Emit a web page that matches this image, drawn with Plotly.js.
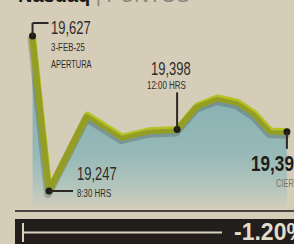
<!DOCTYPE html>
<html><head><meta charset="utf-8">
<script src="https://cdn.plot.ly/plotly-3.0.1.min.js"></script>
<style>
html,body{margin:0;padding:0;background:#d6cdb9;overflow:hidden}
#chart{width:294px;height:244px}
.js-line{stroke-linejoin:round;stroke-linecap:round}
</style></head><body>
<div id="chart"></div>
<script>
const hours  = [8.05, 8.5, 9.55, 10.5, 11.25, 12.0, 12.55, 13.1, 13.65, 14.1, 14.55, 15.0];
const values = [19627, 19247, 19433, 19379, 19395, 19398, 19456, 19475, 19465, 19438, 19394, 19392];
const markIdx = [0, 1, 5, 11];
const change = '-1.20%';
const titleMain = 'Nasdaq';
const titleUnit = 'PUNTOS';

const BG = '#d6cdb9';
const F = '"Liberation Sans",Arial,sans-serif';
const mx = markIdx.map(i => hours[i]);
const my = markIdx.map(i => values[i]);

const XR = [7.161, 15.194], YR = [19117, 19715.3];
const ppx = (YR[1]-YR[0])/244, ppxX = (XR[1]-XR[0])/294;

const traces = [
  {x: hours, y: values, type:'scatter', mode:'lines', fill:'tozeroy',
   line:{width:0, color:'rgba(0,0,0,0)'},
   fillgradient:{type:'vertical', start:19200, stop:19470,
     colorscale:[[0,BG],[0.22,'#b2c5bd'],[0.5,'#97b9b7'],[1,'#89b2b3']]},
   hoverinfo:'skip'},
  {x: hours, y: values, xaxis:'x2', yaxis:'y2', type:'scatter', mode:'lines',
   line:{width:8, color:'rgba(30,35,30,0.22)'}, hoverinfo:'skip'},
  {x: hours, y: values, type:'scatter', mode:'lines',
   line:{width:7, color:'#b6c126'}, hoverinfo:'skip'},
  {x: mx, y: my, type:'scatter', mode:'markers',
   marker:{size:7, color:'#1c1a18'}, hoverinfo:'skip'}
];

function seg(i, x0, y0, x1, y1){
  return {type:'line', xref:'x', yref:'y', xsizemode:'pixel', ysizemode:'pixel',
    xanchor:hours[i], yanchor:values[i], x0:x0, y0:y0, x1:x1, y1:y1,
    line:{color:'#2a2724', width:2}};
}

const shapes = [
  seg(0, 0, 0, 0, 13), seg(0, 0, 13, 16, 13),
  seg(1, 0, 0, 24, 0),
  seg(5, 0, 0, 0, 37),
  seg(11, 0, 0, 0, -17),
  {type:'line', xref:'paper', yref:'paper', x0:15/294, x1:1, y0:1-211/244, y1:1-211/244,
   line:{color:'#4a4540', width:2}},
  {type:'rect', xref:'paper', yref:'paper', x0:15/294, x1:1.01, y0:-0.01, y1:1-219/244,
   fillcolor:'#221e1b', line:{width:0}},
  {type:'line', xref:'paper', yref:'paper', x0:23/294, x1:222/294, y0:1-232.5/244, y1:1-232.5/244,
   line:{color:'#d9d1bf', width:2}},
  {type:'line', xref:'paper', yref:'paper', x0:23/294, x1:23/294, y0:1-223/244, y1:1-242/244,
   line:{color:'#d9d1bf', width:2}}
];

function ann(i, text, xs, ys, size, color, weight){
  return {x:hours[i], y:values[i], xref:'x', yref:'y', text:text, showarrow:false,
    xanchor:'left', yanchor:'middle', xshift:xs, yshift:ys, borderpad:0,
    font:{family:F, size:size, color:color, weight:weight||'normal'}};
}
const annSpecs = [
  [0, '19,627', 17, 8.5, 18, '#2f2b28', 'normal', 0.72],
  [0, '3-FEB-25', 17, -10.5, 11, '#2f2b28', 'normal', 0.72],
  [0, 'APERTURA', 17, -27.5, 11, '#2f2b28', 'normal', 0.68],
  [1, '19,247', 27, 17, 18, '#2f2b28', 'normal', 0.72],
  [1, '8:30 HRS', 27, -2, 11, '#2f2b28', 'normal', 0.72],
  [5, '19,398', -27, 60.5, 18, '#2f2b28', 'normal', 0.72],
  [5, '12:00 HRS', -31, 44, 11, '#2f2b28', 'normal', 0.72],
  [11, '19,392', -37, -32, 22, '#1f1c1a', 'bold', 0.78],
  [11, 'CIERRE', -12, -51, 11, '#77726a', 'normal', 0.68]
];
const squeeze = {};
const annotations = annSpecs.map(s => ann(s[0], s[1], s[2], s[3], s[4], s[5], s[6]));
annSpecs.forEach((s, k) => { squeeze[k] = s[7]; });
annotations.push(
  {xref:'paper', yref:'paper', x:17/294, y:1, yanchor:'bottom', xanchor:'left', yshift:-7, borderpad:0,
   showarrow:false, text:'<b>'+titleMain+'</b> <span style="color:#8a857d">| '+titleUnit+'</span>',
   font:{family:F, size:20, color:'#1c1a18'}},
  {xref:'paper', yref:'paper', x:233/294, y:1-232/244, xanchor:'left', yanchor:'middle', borderpad:0,
   showarrow:false, text:change,
   font:{family:F, size:23, color:'#e2dccb', weight:'bold'}}
);

const layout = {
  width:294, height:244, margin:{l:0,r:0,t:0,b:0},
  paper_bgcolor:BG, plot_bgcolor:BG, showlegend:false,
  xaxis:{range:XR, visible:false, fixedrange:true},
  yaxis:{range:YR, visible:false, fixedrange:true},
  xaxis2:{range:[XR[0]+1*ppxX, XR[1]+1*ppxX], visible:false, overlaying:'x', fixedrange:true},
  yaxis2:{range:[YR[0]+3*ppx, YR[1]+3*ppx], visible:false, overlaying:'y', fixedrange:true},
  shapes:shapes, annotations:annotations
};
Plotly.newPlot('chart', traces, layout, {staticPlot:true, displayModeBar:false}).then(() => {
  document.querySelectorAll('g.annotation').forEach(g => {
    const s = squeeze[+g.getAttribute('data-index')];
    if (!s) return;
    const t = g.querySelector('text.annotation-text');
    if (!t) return;
    t.style.transformBox = 'fill-box';
    t.style.transformOrigin = '0 50%';
    t.style.transform = 'scaleX(' + s + ')';
  });
});
</script></body></html>
